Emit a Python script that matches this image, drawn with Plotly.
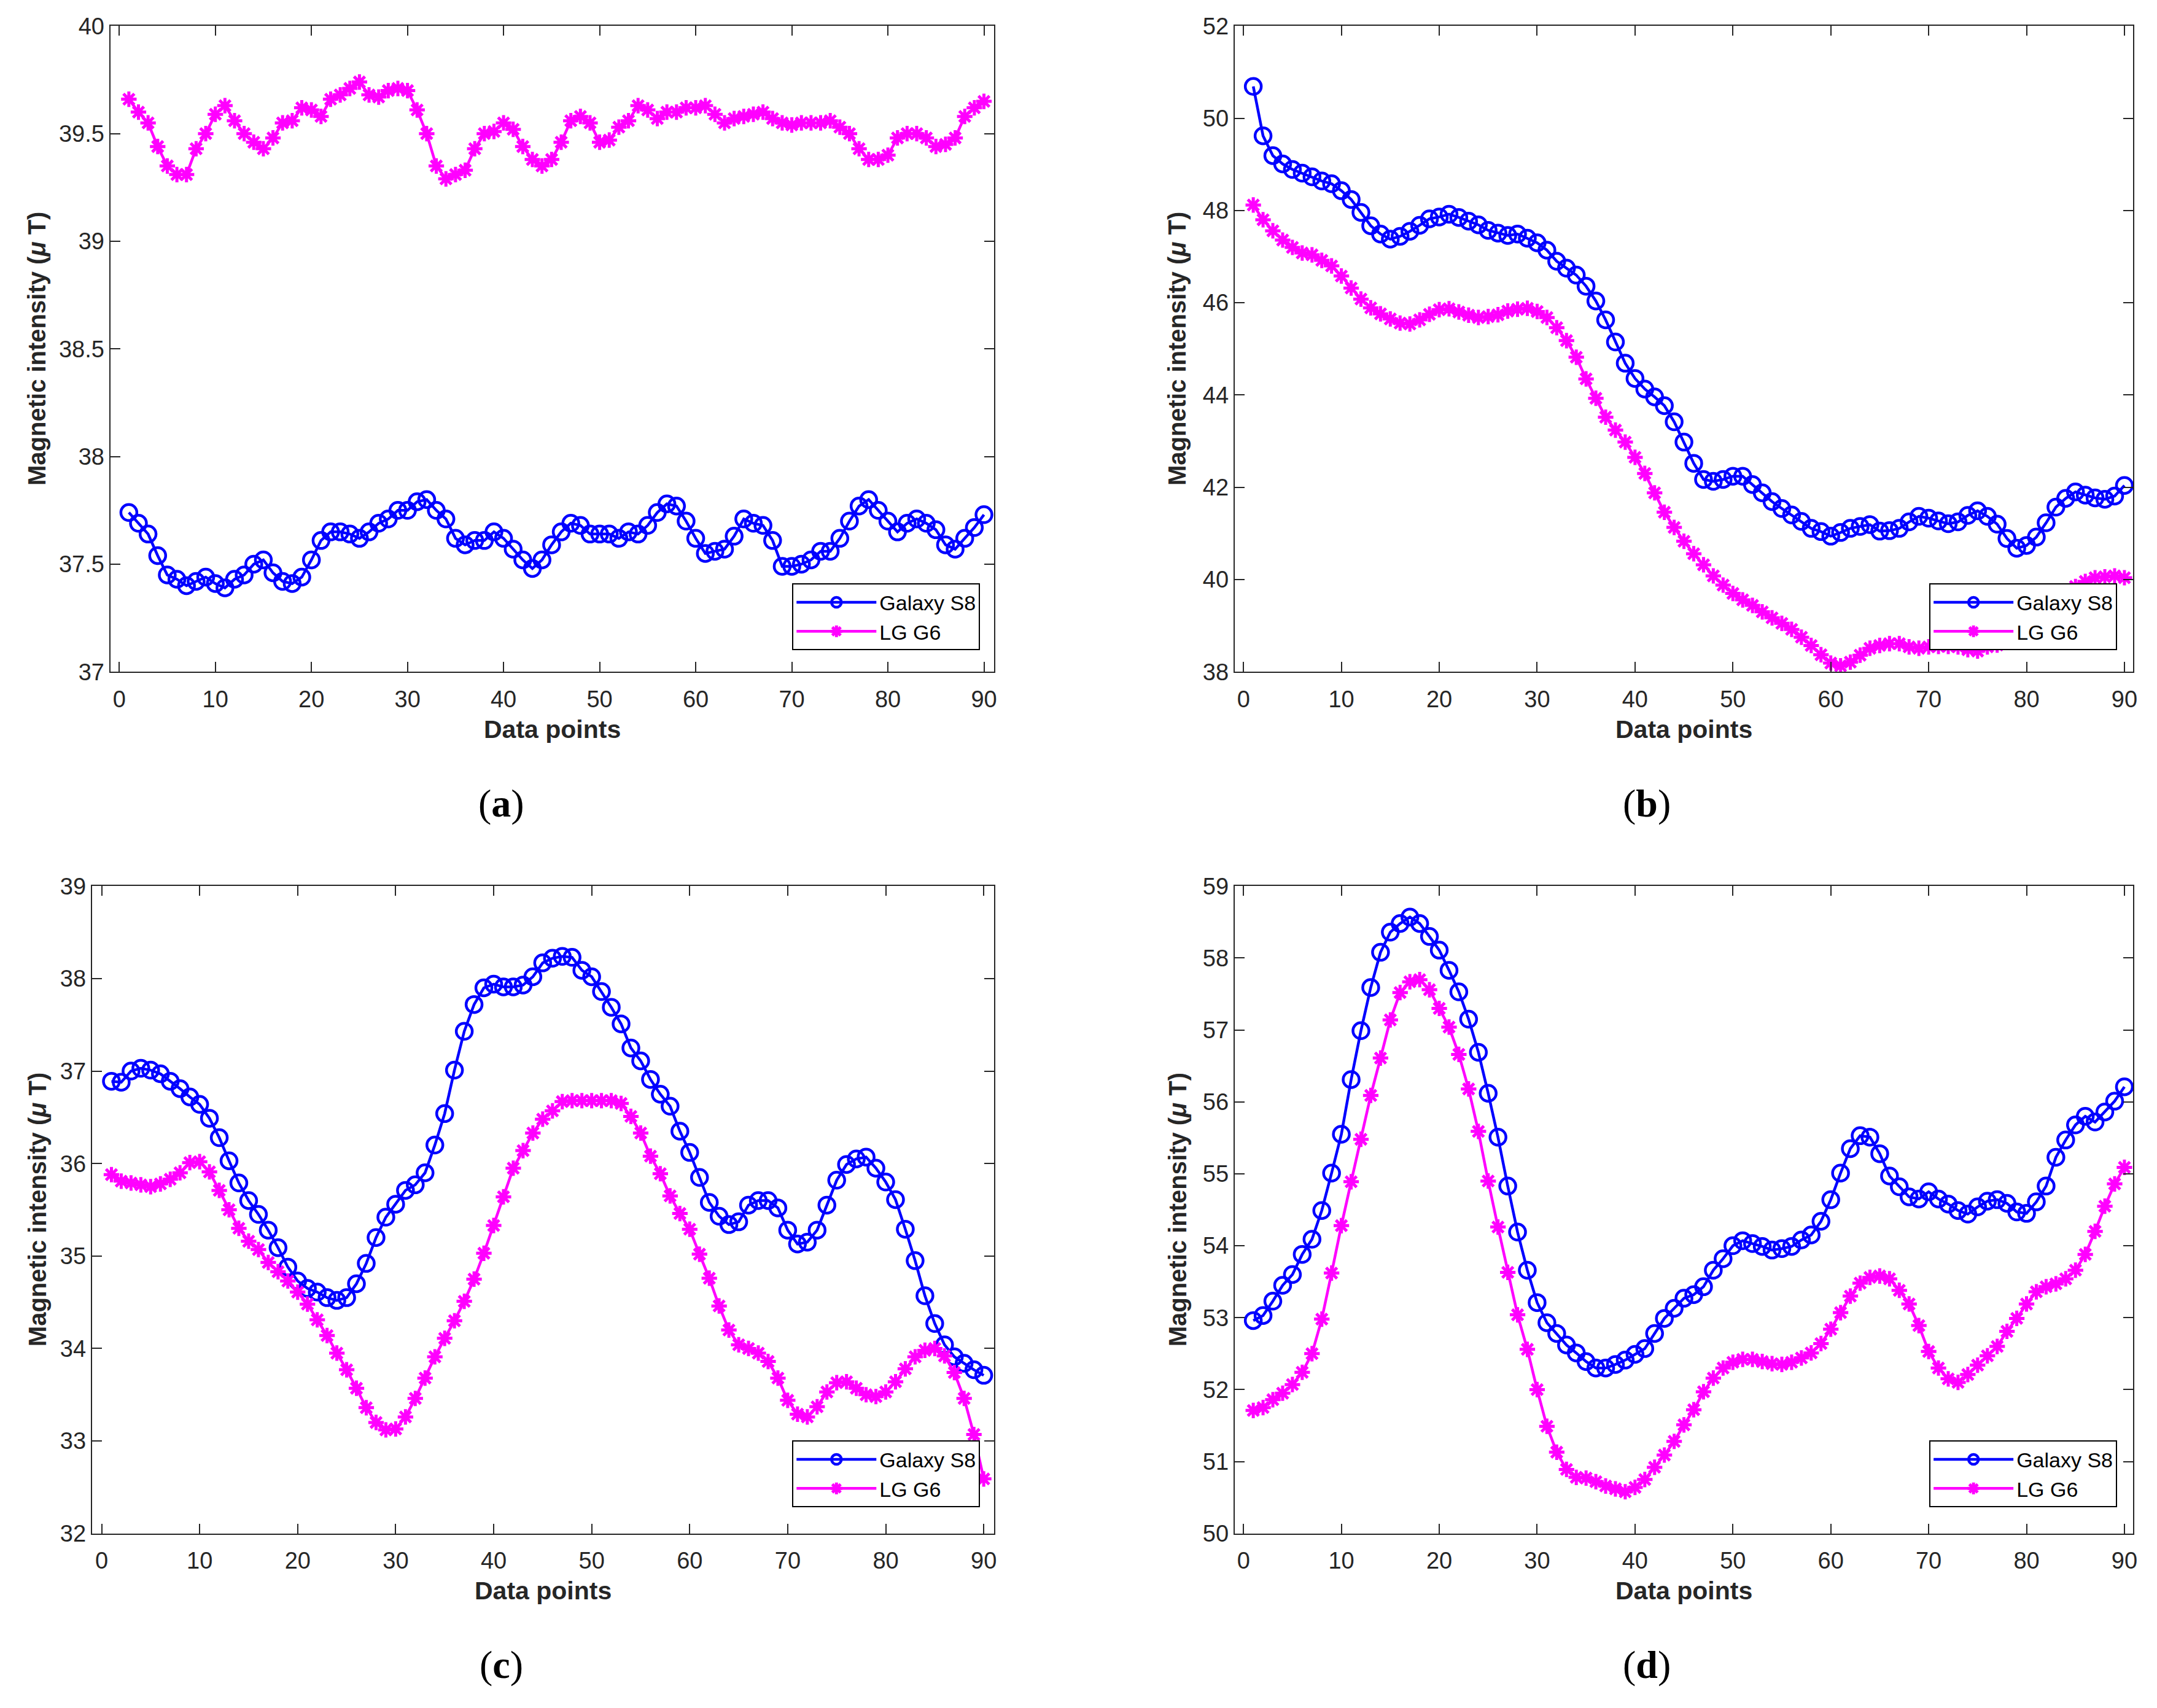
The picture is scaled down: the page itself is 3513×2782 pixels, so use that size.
import plotly.graph_objects as go

# ---------------- data ----------------
data_points = list(range(1, 91))
x_tick_vals = [0, 10, 20, 30, 40, 50, 60, 70, 80, 90]
series_names = ["Galaxy S8", "LG G6"]
panel_labels = ["a", "b", "c", "d"]
y_axis_title = "Magnetic intensity (<i>μ</i> T)"
x_axis_title = "Data points"

a_galaxy_s8 = [37.74, 37.69, 37.64, 37.54, 37.45, 37.43, 37.40, 37.42, 37.44, 37.41,
               37.39, 37.43, 37.45, 37.50, 37.52, 37.46, 37.42, 37.41, 37.44, 37.52,
               37.61, 37.65, 37.65, 37.64, 37.62, 37.65, 37.69, 37.71, 37.75, 37.75,
               37.79, 37.80, 37.75, 37.71, 37.62, 37.59, 37.61, 37.61, 37.65, 37.62,
               37.57, 37.52, 37.48, 37.52, 37.59, 37.65, 37.69, 37.68, 37.64, 37.64,
               37.64, 37.62, 37.65, 37.64, 37.68, 37.74, 37.78, 37.77, 37.70, 37.62,
               37.55, 37.56, 37.57, 37.63, 37.71, 37.69, 37.68, 37.61, 37.49, 37.49,
               37.50, 37.52, 37.56, 37.56, 37.62, 37.70, 37.77, 37.80, 37.75, 37.70,
               37.65, 37.69, 37.71, 37.69, 37.66, 37.59, 37.57, 37.62, 37.67, 37.73]
a_lg_g6 = [39.66, 39.60, 39.55, 39.44, 39.35, 39.31, 39.31, 39.43, 39.50, 39.59,
           39.63, 39.56, 39.50, 39.46, 39.43, 39.48, 39.55, 39.56, 39.62, 39.61,
           39.58, 39.66, 39.68, 39.71, 39.74, 39.68, 39.67, 39.70, 39.71, 39.70,
           39.61, 39.50, 39.35, 39.29, 39.31, 39.33, 39.43, 39.50, 39.51, 39.55,
           39.52, 39.44, 39.38, 39.35, 39.38, 39.46, 39.56, 39.58, 39.55, 39.46,
           39.47, 39.53, 39.56, 39.63, 39.61, 39.57, 39.60, 39.60, 39.62, 39.62,
           39.63, 39.59, 39.55, 39.57, 39.58, 39.59, 39.60, 39.57, 39.55, 39.54,
           39.55, 39.55, 39.55, 39.56, 39.53, 39.50, 39.43, 39.38, 39.38, 39.40,
           39.48, 39.50, 39.50, 39.48, 39.44, 39.45, 39.48, 39.58, 39.62, 39.65]

b_galaxy_s8 = [50.69, 49.62, 49.19, 49.01, 48.89, 48.81, 48.73, 48.64, 48.58, 48.43,
               48.24, 47.96, 47.67, 47.49, 47.38, 47.44, 47.55, 47.68, 47.82, 47.86,
               47.92, 47.85, 47.77, 47.69, 47.57, 47.51, 47.46, 47.49, 47.40, 47.30,
               47.14, 46.90, 46.75, 46.60, 46.36, 46.04, 45.63, 45.15, 44.69, 44.36,
               44.13, 43.96, 43.77, 43.42, 42.98, 42.52, 42.17, 42.13, 42.17, 42.24,
               42.24, 42.06, 41.88, 41.69, 41.54, 41.40, 41.26, 41.11, 41.04, 40.94,
               41.02, 41.11, 41.15, 41.19, 41.05, 41.06, 41.11, 41.25, 41.37, 41.33,
               41.27, 41.21, 41.25, 41.39, 41.49, 41.37, 41.20, 40.89, 40.68, 40.74,
               40.92, 41.23, 41.57, 41.76, 41.90, 41.83, 41.77, 41.74, 41.81, 42.04]
b_lg_g6 = [48.12, 47.80, 47.56, 47.36, 47.20, 47.08, 47.04, 46.92, 46.80, 46.58,
           46.32, 46.08, 45.89, 45.76, 45.65, 45.56, 45.54, 45.63, 45.75, 45.85,
           45.87, 45.80, 45.73, 45.68, 45.70, 45.74, 45.82, 45.86, 45.88, 45.81,
           45.68, 45.46, 45.18, 44.82, 44.35, 43.93, 43.52, 43.24, 42.98, 42.65,
           42.30, 41.88, 41.46, 41.13, 40.83, 40.56, 40.32, 40.08, 39.88, 39.70,
           39.56, 39.44, 39.30, 39.17, 39.05, 38.92, 38.75, 38.57, 38.37, 38.19,
           38.13, 38.21, 38.36, 38.51, 38.57, 38.61, 38.61, 38.54, 38.51, 38.54,
           38.55, 38.55, 38.54, 38.48, 38.45, 38.54, 38.58, 38.70, 38.85, 39.00,
           39.15, 39.30, 39.48, 39.65, 39.85, 39.96, 40.04, 40.06, 40.08, 40.04]

c_galaxy_s8 = [36.89, 36.88, 37.00, 37.03, 37.01, 36.97, 36.89, 36.81, 36.72, 36.64,
               36.49, 36.28, 36.03, 35.79, 35.60, 35.45, 35.28, 35.09, 34.88, 34.73,
               34.65, 34.61, 34.55, 34.52, 34.55, 34.70, 34.92, 35.20, 35.42, 35.56,
               35.71, 35.77, 35.90, 36.20, 36.54, 37.01, 37.43, 37.72, 37.90, 37.94,
               37.91, 37.91, 37.93, 38.02, 38.17, 38.22, 38.24, 38.23, 38.09, 38.02,
               37.86, 37.69, 37.51, 37.25, 37.11, 36.91, 36.75, 36.62, 36.35, 36.12,
               35.85, 35.58, 35.43, 35.34, 35.37, 35.55, 35.60, 35.60, 35.52, 35.28,
               35.13, 35.15, 35.28, 35.55, 35.82, 35.99, 36.05, 36.07, 35.95, 35.80,
               35.61, 35.29, 34.95, 34.57, 34.27, 34.04, 33.91, 33.84, 33.77, 33.71]
c_lg_g6 = [35.88, 35.81, 35.79, 35.77, 35.75, 35.78, 35.83, 35.90, 36.01, 36.02,
           35.91, 35.71, 35.50, 35.30, 35.16, 35.07, 34.93, 34.83, 34.73, 34.61,
           34.48, 34.31, 34.14, 33.95, 33.77, 33.57, 33.36, 33.20, 33.12, 33.13,
           33.26, 33.46, 33.68, 33.91, 34.11, 34.30, 34.51, 34.75, 35.03, 35.33,
           35.64, 35.95, 36.14, 36.33, 36.48, 36.57, 36.67, 36.68, 36.68, 36.68,
           36.68, 36.68, 36.65, 36.51, 36.33, 36.08, 35.89, 35.65, 35.46, 35.29,
           35.02, 34.76, 34.46, 34.20, 34.04, 34.00, 33.95, 33.86, 33.68, 33.44,
           33.29, 33.26, 33.37, 33.53, 33.63, 33.64, 33.57, 33.50, 33.48, 33.53,
           33.64, 33.78, 33.91, 33.98, 34.00, 33.92, 33.74, 33.46, 33.07, 32.59]

d_galaxy_s8 = [52.96, 53.03, 53.23, 53.45, 53.60, 53.88, 54.09, 54.49, 55.01, 55.55,
               56.31, 56.99, 57.59, 58.08, 58.36, 58.48, 58.57, 58.48, 58.30, 58.11,
               57.83, 57.53, 57.15, 56.69, 56.12, 55.51, 54.83, 54.19, 53.66, 53.21,
               52.93, 52.78, 52.62, 52.51, 52.39, 52.30, 52.30, 52.35, 52.41, 52.49,
               52.57, 52.78, 52.99, 53.13, 53.27, 53.32, 53.43, 53.66, 53.82, 54.00,
               54.07, 54.03, 53.99, 53.94, 53.96, 53.99, 54.08, 54.15, 54.34, 54.64,
               55.01, 55.35, 55.53, 55.51, 55.28, 54.97, 54.82, 54.68, 54.65, 54.75,
               54.65, 54.58, 54.49, 54.44, 54.54, 54.62, 54.64, 54.59, 54.47, 54.45,
               54.61, 54.83, 55.23, 55.47, 55.68, 55.80, 55.72, 55.86, 56.01, 56.21]
d_lg_g6 = [51.71, 51.75, 51.86, 51.95, 52.07, 52.24, 52.50, 52.98, 53.62, 54.28,
           54.89, 55.48, 56.09, 56.61, 57.14, 57.52, 57.67, 57.70, 57.56, 57.30,
           57.04, 56.66, 56.18, 55.59, 54.90, 54.26, 53.63, 53.04, 52.56, 52.00,
           51.49, 51.13, 50.89, 50.78, 50.77, 50.72, 50.66, 50.62, 50.58, 50.64,
           50.75, 50.92, 51.09, 51.28, 51.51, 51.72, 51.97, 52.16, 52.30, 52.38,
           52.42, 52.42, 52.39, 52.36, 52.35, 52.38, 52.44, 52.51, 52.64, 52.84,
           53.07, 53.30, 53.48, 53.56, 53.58, 53.54, 53.38, 53.19, 52.89, 52.53,
           52.30, 52.15, 52.10, 52.21, 52.34, 52.47, 52.60, 52.81, 52.99, 53.19,
           53.36, 53.43, 53.47, 53.54, 53.66, 53.88, 54.20, 54.55, 54.86, 55.09]

y_ranges = [[37, 40], [38, 52], [32, 39], [50, 59]]
y_dticks = [0.5, 2, 1, 1]
series_by_panel = [(a_galaxy_s8, a_lg_g6), (b_galaxy_s8, b_lg_g6),
                   (c_galaxy_s8, c_lg_g6), (d_galaxy_s8, d_lg_g6)]

# ---------------- layout geometry ----------------
W, H = 3513, 2782
x_domains = [[0.0512, 0.4619], [0.5735, 0.9910], [0.0427, 0.4618], [0.5735, 0.9910]]
y_domains = [[0.6083, 0.9922], [0.6083, 0.9922], [0.0961, 0.4809], [0.0961, 0.4809]]
x_ranges = [[-0.94, 91.08], [-0.91, 90.91], [-0.99, 91.06], [-0.91, 90.91]]
legend_right = [0.4553, 0.9835, 0.4553, 0.9835]
legend_bottom = [0.6210, 0.6210, 0.1115, 0.1115]
ylabel_x = [0.0173, 0.5470, 0.0173, 0.5470]
xlabel_y = [0.5740, 0.5740, 0.0619, 0.0619]
caption_x = [0.233, 0.765, 0.233, 0.765]
caption_y = [0.5300, 0.5300, 0.0180, 0.0180]

BLUE = "#0000FF"
MAGENTA = "#FF00FF"
AXC = "#262626"
SANS = "Liberation Sans, Arial, sans-serif"
SERIF = "Liberation Serif, Times New Roman, serif"

fig = go.Figure()
layout = dict(
    width=W, height=H, margin=dict(l=0, r=0, t=0, b=0),
    paper_bgcolor="white", plot_bgcolor="white",
    font=dict(family=SANS, color=AXC, size=34),
)
annotations = []

for i in range(4):
    sfx = "" if i == 0 else str(i + 1)
    leg = "legend" if i == 0 else "legend" + str(i + 1)
    s8, g6 = series_by_panel[i]
    fig.add_trace(go.Scatter(
        x=data_points, y=s8, name=series_names[0], mode="lines+markers",
        xaxis="x" + sfx, yaxis="y" + sfx, legend=leg,
        line=dict(color=BLUE, width=4.5),
        marker=dict(symbol="circle-open", size=26, color=BLUE,
                    line=dict(color=BLUE, width=4.5)),
    ))
    fig.add_trace(go.Scatter(
        x=data_points, y=g6, name=series_names[1], mode="lines+markers",
        xaxis="x" + sfx, yaxis="y" + sfx, legend=leg,
        line=dict(color=MAGENTA, width=4.5),
        marker=dict(symbol="asterisk-open", size=21, color=MAGENTA,
                    line=dict(color=MAGENTA, width=5)),
    ))
    layout["xaxis" + sfx] = dict(
        domain=x_domains[i], range=x_ranges[i], anchor="y" + sfx,
        tickmode="array", tickvals=x_tick_vals,
        ticks="inside", ticklen=16, tickwidth=2, tickcolor=AXC,
        showline=True, linecolor=AXC, linewidth=2, mirror="ticks",
        showgrid=False, zeroline=False, ticklabelstandoff=10,
        tickfont=dict(family=SANS, size=38, color=AXC),
    )
    layout["yaxis" + sfx] = dict(
        domain=y_domains[i], range=y_ranges[i], anchor="x" + sfx,
        dtick=y_dticks[i], tick0=y_ranges[i][0],
        ticks="inside", ticklen=16, tickwidth=2, tickcolor=AXC,
        showline=True, linecolor=AXC, linewidth=2, mirror="ticks",
        showgrid=False, zeroline=False,
        tickfont=dict(family=SANS, size=38, color=AXC),
    )
    layout[leg] = dict(
        x=legend_right[i], y=legend_bottom[i], xanchor="right", yanchor="bottom",
        xref="paper", yref="paper",
        bgcolor="white", bordercolor="#000000", borderwidth=2,
        font=dict(family=SANS, size=34, color="#000000"),
        itemwidth=130, tracegroupgap=0,
    )
    annotations.append(dict(
        text=y_axis_title, xref="paper", yref="paper",
        x=ylabel_x[i], y=sum(y_domains[i]) / 2, textangle=-90,
        showarrow=False, xanchor="center", yanchor="middle",
        font=dict(family=SANS, size=40, color=AXC, weight="bold"),
    ))
    annotations.append(dict(
        text=x_axis_title, xref="paper", yref="paper",
        x=sum(x_domains[i]) / 2, y=xlabel_y[i],
        showarrow=False, xanchor="center", yanchor="middle",
        font=dict(family=SANS, size=41, color=AXC, weight="bold"),
    ))
    annotations.append(dict(
        text="(<b>" + panel_labels[i] + "</b>)", xref="paper", yref="paper",
        x=caption_x[i], y=caption_y[i],
        showarrow=False, xanchor="center", yanchor="middle",
        font=dict(family=SERIF, size=64, color="#000000"),
    ))

layout["annotations"] = annotations
fig.update_layout(**layout)
fig.write_html("out.html", config={"displayModeBar": False},
               post_script="document.body.style.margin='0px';")
